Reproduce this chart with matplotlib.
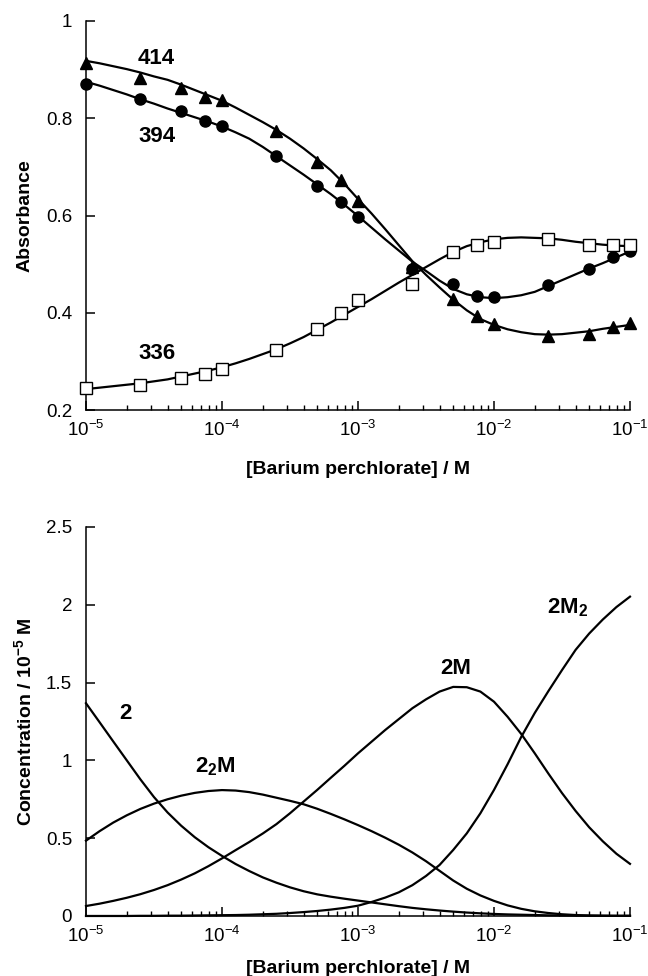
import numpy as np
import matplotlib
matplotlib.use('Agg')
import matplotlib.pyplot as plt

from matplotlib.ticker import LogLocator, NullFormatter

# Measured absorbances (markers)
CONC = [1e-5, 2.5e-5, 5e-5, 7.5e-5, 1e-4, 2.5e-4, 5e-4, 7.5e-4, 1e-3,
        2.5e-3, 5e-3, 7.5e-3, 1e-2, 2.5e-2, 5e-2, 7.5e-2, 1e-1]
ABS_414 = [0.913, 0.882, 0.862, 0.844, 0.838, 0.774, 0.709, 0.673, 0.630,
           0.495, 0.428, 0.393, 0.377, 0.352, 0.356, 0.371, 0.378]
ABS_394 = [0.870, 0.840, 0.815, 0.795, 0.785, 0.722, 0.661, 0.627, 0.596,
           0.491, 0.459, 0.434, 0.433, 0.457, 0.491, 0.514, 0.528]
ABS_336 = [0.245, 0.251, 0.265, 0.275, 0.284, 0.323, 0.367, 0.400, 0.426,
           0.460, 0.524, 0.539, 0.545, 0.552, 0.539, 0.539, 0.539]

FIT_LOGC = [-5.0, -4.9, -4.8, -4.7, -4.6, -4.5, -4.4, -4.3, -4.2, -4.1,
            -4.0, -3.9, -3.8, -3.7, -3.6, -3.5, -3.4, -3.3, -3.2, -3.1,
            -3.0, -2.9, -2.8, -2.7, -2.6, -2.5, -2.4, -2.3, -2.2, -2.1,
            -2.0, -1.9, -1.8, -1.7, -1.6, -1.5, -1.4, -1.3, -1.2, -1.1, -1.0]
FIT_414 = [0.918, 0.913, 0.907, 0.901, 0.894, 0.886, 0.879, 0.869, 0.858, 0.847,
           0.836, 0.822, 0.807, 0.792, 0.776, 0.758, 0.738, 0.716, 0.693, 0.665,
           0.634, 0.604, 0.572, 0.539, 0.506, 0.478, 0.452, 0.427, 0.405, 0.387,
           0.375, 0.366, 0.360, 0.356, 0.355, 0.356, 0.359, 0.362, 0.367, 0.371,
           0.375]
FIT_394 = [0.875, 0.867, 0.858, 0.849, 0.839, 0.830, 0.820, 0.811, 0.802, 0.793,
           0.783, 0.771, 0.758, 0.741, 0.722, 0.703, 0.684, 0.664, 0.644, 0.622,
           0.599, 0.575, 0.551, 0.528, 0.505, 0.486, 0.466, 0.449, 0.438, 0.432,
           0.430, 0.432, 0.436, 0.443, 0.455, 0.467, 0.479, 0.491, 0.502, 0.514,
           0.526]
FIT_336 = [0.243, 0.246, 0.249, 0.252, 0.255, 0.259, 0.263, 0.269, 0.275, 0.281,
           0.288, 0.296, 0.305, 0.315, 0.325, 0.337, 0.350, 0.365, 0.380, 0.396,
           0.412, 0.428, 0.445, 0.462, 0.478, 0.494, 0.510, 0.525, 0.537, 0.545,
           0.551, 0.554, 0.555, 0.554, 0.553, 0.550, 0.546, 0.543, 0.540, 0.538,
           0.537]

# Species distribution (10^-5 M)
SP_2 = [1.367, 1.245, 1.122, 1.000, 0.878, 0.764, 0.665, 0.580, 0.506, 0.442,
        0.386, 0.334, 0.289, 0.248, 0.214, 0.184, 0.159, 0.139, 0.124, 0.111,
        0.099, 0.087, 0.075, 0.063, 0.052, 0.043, 0.035, 0.028, 0.022, 0.017,
        0.013, 0.010, 0.008, 0.006, 0.004, 0.003, 0.002, 0.002, 0.001, 0.001,
        0.001]
SP_22M = [0.484, 0.545, 0.600, 0.647, 0.688, 0.722, 0.750, 0.773, 0.791, 0.803,
          0.809, 0.806, 0.796, 0.780, 0.760, 0.740, 0.718, 0.689, 0.656, 0.621,
          0.584, 0.545, 0.503, 0.458, 0.408, 0.352, 0.290, 0.228, 0.175, 0.132,
          0.097, 0.068, 0.046, 0.030, 0.019, 0.011, 0.006, 0.003, 0.002, 0.001,
          0.001]
SP_2M = [0.064, 0.079, 0.097, 0.117, 0.140, 0.167, 0.198, 0.234, 0.274, 0.320,
         0.370, 0.423, 0.475, 0.530, 0.590, 0.660, 0.735, 0.810, 0.888, 0.965,
         1.045, 1.120, 1.195, 1.265, 1.335, 1.392, 1.442, 1.472, 1.470, 1.442,
         1.377, 1.280, 1.170, 1.045, 0.915, 0.790, 0.675, 0.570, 0.480, 0.400,
         0.335]
SP_2M2 = [0.0, 0.0, 0.0, 0.0, 0.001, 0.001, 0.002, 0.002, 0.003, 0.004,
          0.005, 0.006, 0.008, 0.011, 0.014, 0.019, 0.025, 0.032, 0.041, 0.052,
          0.066, 0.090, 0.118, 0.152, 0.198, 0.257, 0.328, 0.424, 0.531, 0.660,
          0.810, 0.975, 1.150, 1.305, 1.445, 1.580, 1.710, 1.815, 1.905, 1.985,
          2.052]

XTICKS = [1e-5, 1e-4, 1e-3, 1e-2, 1e-1]
XTICK_LABELS = [r'$\mathregular{10^{-5}}$', r'$\mathregular{10^{-4}}$',
                r'$\mathregular{10^{-3}}$', r'$\mathregular{10^{-2}}$',
                r'$\mathregular{10^{-1}}$']
TOP_YTICKS = [0.2, 0.4, 0.6, 0.8, 1.0]
TOP_YLABELS = ['0.2', '0.4', '0.6', '0.8', '1']
BOT_YTICKS = [0, 0.5, 1, 1.5, 2, 2.5]
BOT_YLABELS = ['0', '0.5', '1', '1.5', '2', '2.5']

LW = 1.6


def setup():
    plt.rcParams['font.family'] = ['Liberation Sans', 'DejaVu Sans']
    plt.rcParams['mathtext.fontset'] = 'custom'
    plt.rcParams['mathtext.rm'] = 'Liberation Sans'
    plt.rcParams['mathtext.it'] = 'Liberation Sans:italic'
    plt.rcParams['mathtext.bf'] = 'Liberation Sans:bold'
    plt.rcParams['axes.linewidth'] = 1.1


def style_axis(ax, xpad):
    ax.spines['top'].set_visible(False)
    ax.spines['right'].set_visible(False)
    ax.set_xscale('log')
    ax.set_xlim(1e-5, 1e-1)
    ax.set_xticks(XTICKS)
    ax.set_xticklabels(XTICK_LABELS)
    ax.xaxis.set_minor_locator(LogLocator(base=10, subs=np.arange(2, 10), numticks=20))
    ax.xaxis.set_minor_formatter(NullFormatter())
    ax.tick_params(which='major', direction='in', length=6.5, width=1.1,
                   labelsize=13.5, top=False, right=False)
    ax.tick_params(which='minor', direction='in', length=3.5, width=1.0,
                   top=False, right=False)
    ax.tick_params(axis='y', pad=10)
    ax.tick_params(axis='x', which='major', pad=7)
    ax.set_xlabel('[Barium perchlorate] / M', fontsize=14, fontweight='bold',
                  labelpad=xpad)


def plot_absorbance(fig):
    ax = fig.add_axes([0.1327, 0.5799, 0.8395, 0.3986])
    fit_c = [10 ** v for v in FIT_LOGC]

    # Fitted lines
    for fit in (FIT_414, FIT_394, FIT_336):
        ax.plot(fit_c, fit, color='black', lw=LW, zorder=2, solid_joinstyle='round')

    # Measured points
    ax.plot(CONC, ABS_414, ls='none', marker='^', ms=8.5, color='black',
            zorder=3, clip_on=False)
    ax.plot(CONC, ABS_394, ls='none', marker='o', ms=8, color='black',
            zorder=3, clip_on=False)
    ax.plot(CONC, ABS_336, ls='none', marker='s', ms=8, mfc='white',
            mec='black', mew=1.0, zorder=3, clip_on=False)

    ax.text(3.3e-5, 0.923, '414', fontsize=16, fontweight='bold', ha='center', va='center')
    ax.text(3.3e-5, 0.762, '394', fontsize=16, fontweight='bold', ha='center', va='center')
    ax.text(3.3e-5, 0.317, '336', fontsize=16, fontweight='bold', ha='center', va='center')

    ax.set_ylim(0.2, 1.0)
    ax.set_yticks(TOP_YTICKS)
    ax.set_yticklabels(TOP_YLABELS)
    style_axis(ax, 15)
    ax.set_ylabel('Absorbance', fontsize=14, fontweight='bold', labelpad=9)


def plot_species(fig):
    ax = fig.add_axes([0.1327, 0.0615, 0.8395, 0.3986])
    fit_c = [10 ** v for v in FIT_LOGC]

    for sp in (SP_2, SP_22M, SP_2M, SP_2M2):
        ax.plot(fit_c, sp, color='black', lw=LW, clip_on=False, solid_joinstyle='round')

    ax.text(1.94e-5, 1.30, '2', fontsize=16, fontweight='bold', ha='center', va='center')
    ax.text(8.9e-5, 0.96, r'$\mathbf{2_2M}$', fontsize=16, ha='center', va='center')
    ax.text(5.2e-3, 1.593, '2M', fontsize=16, fontweight='bold', ha='center', va='center')
    ax.text(3.5e-2, 1.98, r'$\mathbf{2M_2}$', fontsize=16, ha='center', va='center')

    ax.set_ylim(0, 2.5)
    ax.set_yticks(BOT_YTICKS)
    ax.set_yticklabels(BOT_YLABELS)
    style_axis(ax, 10)
    ax.set_ylabel(r'Concentration / 10$^{\mathbf{-5}}$ M', fontsize=14,
                  fontweight='bold', labelpad=8)


def main():
    setup()
    fig = plt.figure(figsize=(6.48, 9.76), dpi=100)
    plot_absorbance(fig)
    plot_species(fig)
    fig.savefig('out.png', dpi=100)


if __name__ == '__main__':
    main()
